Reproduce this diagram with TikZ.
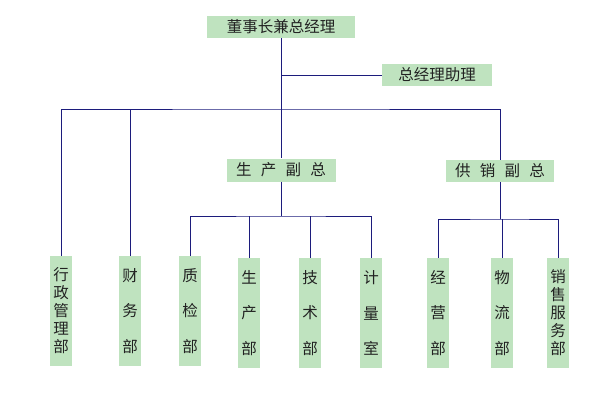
\documentclass[tikz,border=0pt]{standalone}
\usepackage{fontspec}
\setmainfont{Noto Sans CJK SC}
\usetikzlibrary{positioning}
\definecolor{boxgreen}{HTML}{BFE3BF}
\definecolor{linkblue}{HTML}{1C1C7C}
\definecolor{txtgray}{HTML}{222222}
\newcommand{\vpgap}{\hspace{.6em}}

\begin{document}
\begin{tikzpicture}[x=1pt, y=-1pt,
    post/.style={fill=boxgreen, text=txtgray, inner sep=0pt, font=\fontsize{15.5}{18}\selectfont},
    dept/.style={post, minimum width=22pt, minimum height=110pt, align=center},
    sparse/.style={dept, font=\fontsize{15.5}{35.5}\selectfont},
    link/.style={draw=linkblue, line width=1pt}]
    \useasboundingbox (0,0) rectangle (598,405);
    % top management
    \node[post, minimum width=148pt, minimum height=22pt] (ceo) at (281,27) {董事长兼总经理};
    \node[post, minimum width=110pt, minimum height=22pt] (asst) at (437,75) {总经理助理};
    \node[post, minimum width=109pt, minimum height=23pt] (vpp) at (281,170) {生\vpgap 产\vpgap 副\vpgap 总};
    \node[post, minimum width=108pt, minimum height=22pt] (vps) at (500,171) {供\vpgap 销\vpgap 副\vpgap 总};
    % departments
    \node[dept]   (xz) at (61,311)  {行\\政\\管\\理\\部};
    \node[sparse] (cw) at (130,311) {财\\务\\部};
    \node[sparse] (zj) at (190,311) {质\\检\\部};
    \node[sparse] (sc) at (249,313) {生\\产\\部};
    \node[sparse] (js) at (310,313) {技\\术\\部};
    \node[sparse] (jl) at (371,313) {计\\量\\室};
    \node[sparse] (jy) at (438,313) {经\\营\\部};
    \node[sparse] (wl) at (502,313) {物\\流\\部};
    \node[dept]   (xs) at (558,313) {销\\售\\服\\务\\部};
    % buses
    \coordinate (bus) at (281,109);
    \coordinate (pbus) at (281,216);
    \coordinate (sbus) at (501,219);
    % connectors
    \draw[link] (ceo) -- (vpp);
    \draw[link] (ceo |- asst) -- (asst);
    \draw[link] (xz) |- (bus) -| (vps);
    \draw[link] (cw) -- (cw |- bus);
    \draw[link] (zj) |- (pbus) -| (jl);
    \draw[link] (vpp) -- (pbus);
    \draw[link] (sc) -- (sc |- pbus);
    \draw[link] (js) -- (js |- pbus);
    \draw[link] (jy) |- (sbus) -| (xs);
    \draw[link] (vps) -- (sbus -| vps);
    \draw[link] (wl) -- (wl |- sbus);
\end{tikzpicture}
\end{document}
